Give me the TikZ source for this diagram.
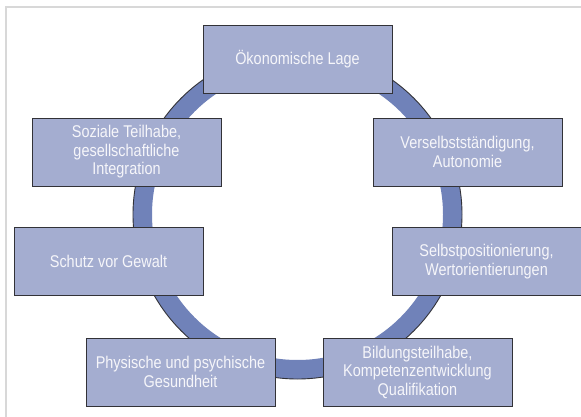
\documentclass[tikz,border=0pt]{standalone}
\usepackage{fontspec}
\setmainfont{Liberation Sans}[FakeStretch=0.85]
\definecolor{boxfill}{RGB}{164,173,208}
\definecolor{ringblue}{RGB}{112,130,185}
\definecolor{boxline}{RGB}{50,50,55}
\definecolor{framegray}{RGB}{216,216,216}
\definecolor{textlight}{RGB}{246,246,250}
\tikzset{
  topic/.style={draw=boxline, line width=0.9pt, fill=boxfill, rectangle,
    minimum width=189pt, minimum height=68pt, inner sep=2pt, align=center,
    text=textlight, font=\fontsize{17}{18.5}\selectfont},
  ring/.style={draw=ringblue, line width=19pt},
  ringedge/.style={draw=boxline, line width=0.9pt},
  frameline/.style={draw=framegray, line width=2.5pt}
}
\begin{document}
\begin{tikzpicture}[x=1pt, y=-1pt]
\useasboundingbox (0,0) rectangle (581,417);
\fill[white] (0,0) rectangle (581,417);
\draw[frameline] (6,418) -- (6,7) -- (582,7);
\coordinate (c) at (297.5,214.5);
\draw[ring] (c) circle[radius=155pt];
\draw[ringedge] (c) circle[radius=164.5pt];
\node[topic] (oek) at (297.5,59) {Ökonomische Lage};
\node[topic] (soz) at (126.5,152) {Soziale Teilhabe,\\gesellschaftliche\\Integration};
\node[topic] (ver) at (467.5,152) {Verselbstständigung,\\Autonomie};
\node[topic] (sch) at (108.5,261.5) {Schutz vor Gewalt};
\node[topic] (sel) at (486.5,261.5) {Selbstpositionierung,\\Wertorientierungen};
\node[topic] (phy) at (180.5,372) {Physische und psychische\\Gesundheit};
\node[topic] (bil) at (417.5,372) {Bildungsteilhabe,\\Kompetenzentwicklung\\Qualifikation};
\end{tikzpicture}
\end{document}
